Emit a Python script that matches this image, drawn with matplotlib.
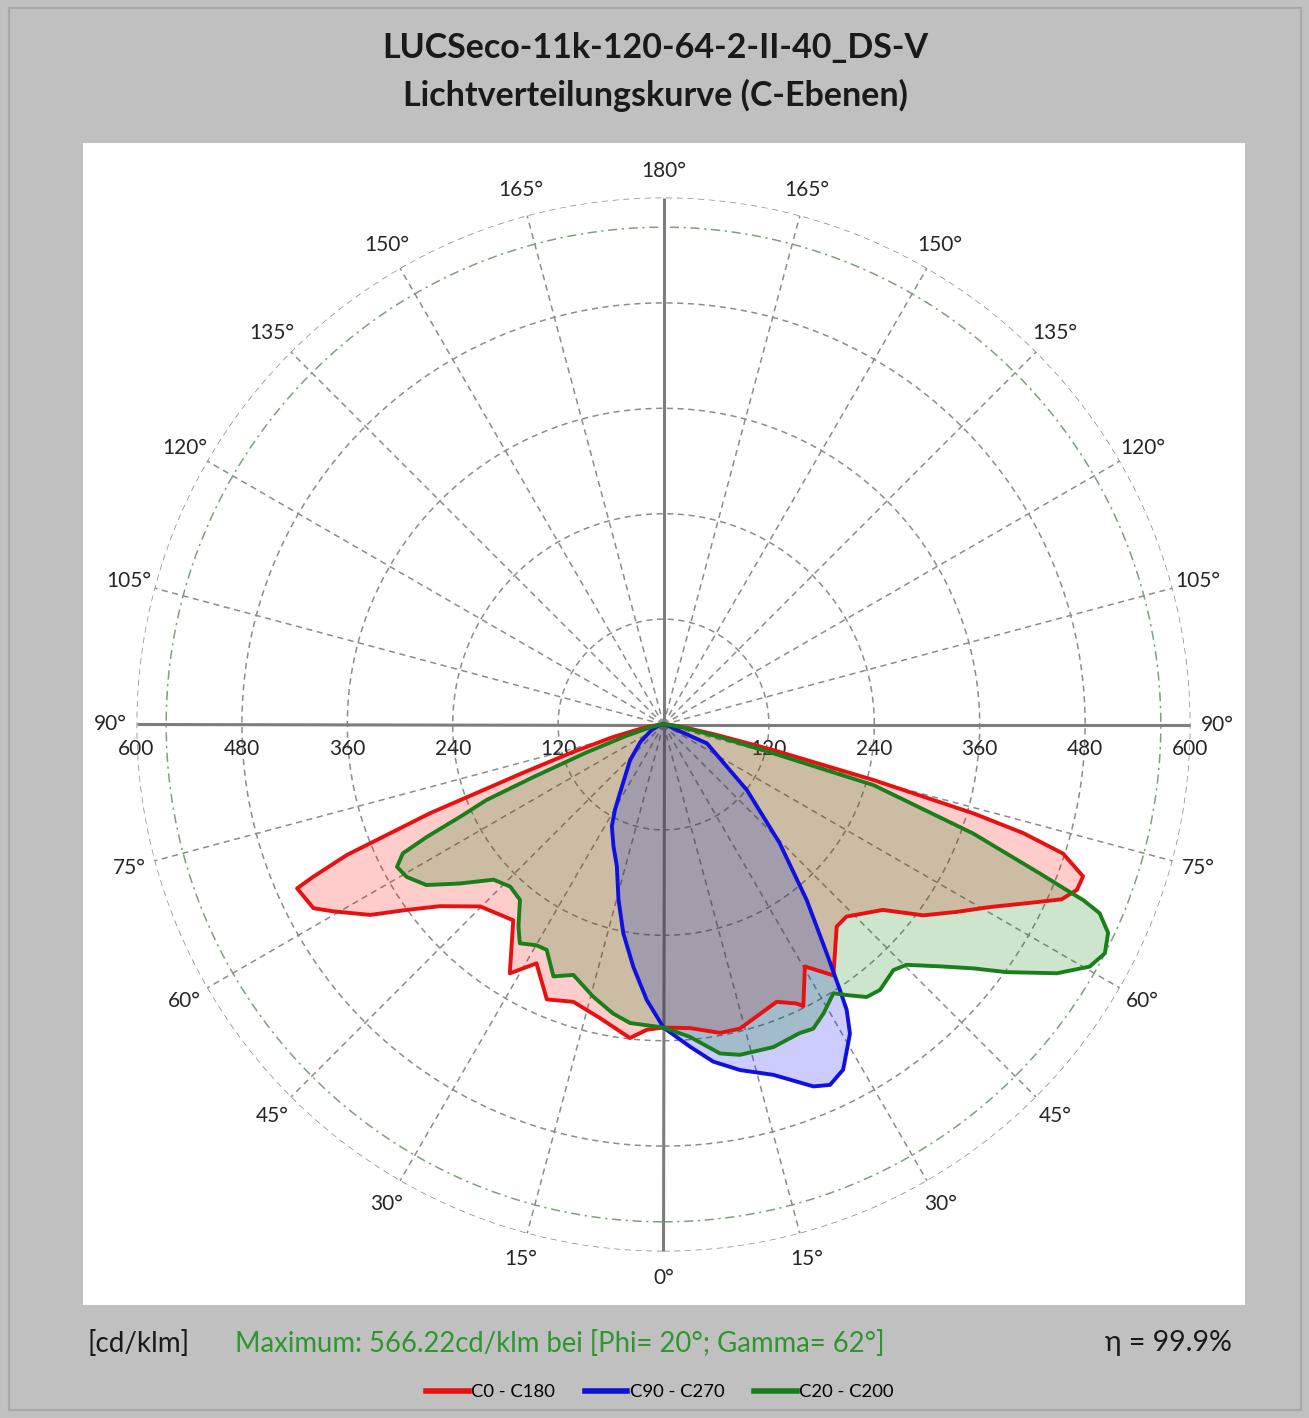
import numpy as np
import matplotlib
matplotlib.use("Agg")
import matplotlib.pyplot as plt
from matplotlib.patches import Rectangle

plt.rcParams['font.family'] = ['Lato', 'DejaVu Sans']

# ---------------- data (gamma in degrees, intensity in cd/klm) ----------------
# C0 (right) / C180 (left) - red
c0_gamma = [0, 5, 10.4, 14.1, 22.2, 25.5, 26.4, 30.3, 34.1, 40.6, 43.6, 49.8, 53.7, 57.4,
            60.8, 64.8, 66.3, 68.2, 70.1, 72.1, 73.2, 74.0, 75.2, 76.9, 79, 82, 86, 90]
c0_int = [345, 347, 357, 357, 341, 352, 358, 319, 345, 303, 302, 327, 367, 396,
          426, 474, 495, 507, 508, 478, 428, 367, 247, 128, 60, 25, 8, 2]
c180_gamma = [0, 3.1, 6.1, 12.2, 18.0, 23.0, 28.0, 31.7, 37.5, 45.2, 50.9, 54.2, 57.0,
              60.5, 62.3, 65.9, 66.5, 67.6, 68.3, 69.2, 69.6, 71, 73, 76, 80, 85, 90]
c180_int = [345, 348, 359, 342, 332, 340, 308, 333, 281, 294, 328, 361, 398,
            432, 450, 457, 435, 390, 335, 284, 247, 170, 110, 60, 25, 8, 2]

# C90 (right) / C270 (left) - blue
c90_gamma = [0, 4.7, 8.4, 12.5, 17.4, 22.5, 24.8, 27.5, 31.1, 32.7, 33.6, 35.5, 39.2,
             44.4, 51.8, 56.3, 66.5, 69, 75, 82, 90]
c90_int = [345, 368, 388, 403, 418, 446, 452, 443, 411, 386, 363, 320, 258,
           189, 121, 87, 54, 12, 6, 3, 1]
c270_gamma = [0, 3.5, 7.1, 10.9, 14.4, 18.2, 22.3, 26.9, 29.6, 32, 43, 53, 65, 80, 90]
c270_int = [345, 314, 278, 242, 206, 170, 150, 130, 112, 95, 56, 33, 15, 5, 1]

# C20 (right) / C200 (left) - green
c20_gamma = [0, 4.85, 9.75, 13.0, 18.8, 23.8, 26.2, 29.0, 32.3, 34.1, 36.7, 39.2, 43.1,
             45.3, 48.8, 51.8, 54.2, 57.7, 60.4, 62.6, 64.9, 66.6, 67.3, 67.6, 68.4,
             70.6, 73.9, 75.3, 77.5, 80, 85, 90]
c20_int = [345, 357, 380, 386, 388, 384, 386, 376, 362, 372, 387, 390, 383,
           389, 418, 449, 482, 530, 558, 566, 559, 541, 518, 500, 461,
           374, 249, 129, 65, 30, 10, 2]
c200_gamma = [0, 6.4, 9.9, 14.5, 19.8, 23.6, 27.4, 29.9, 33.3, 35.7, 39.3, 43.4, 47.6,
              52.0, 55.9, 59.3, 61.9, 63.7, 64.6, 65.6, 66.9, 68, 70, 73, 78, 85, 90]
c200_int = [345, 342, 334, 320, 303, 313, 289, 290, 298, 283, 258, 254, 262,
            294, 326, 340, 344, 331, 298, 254, 219, 160, 95, 45, 15, 5, 2]

curve_labels = ['C0 - C180', 'C90 - C270', 'C20 - C200']
curve_colors = ['#e81010', '#1010e0', '#1a7f1a']
fill_colors = ['#ff0000', '#0000ff', '#008000']

radial_ticks = [120, 240, 360, 480, 600]
angle_ticks = list(range(0, 181, 15))
max_value = 566.22

title_lines = ['LUCSeco-11k-120-64-2-II-40_DS-V', 'Lichtverteilungskurve (C-Ebenen)']
unit_text = '[cd/klm]'
max_text = 'Maximum: 566.22cd/klm bei [Phi= 20°; Gamma= 62°]'
eta_text = 'η = 99.9%'

# ---------------- figure ----------------
W, H = 1309, 1418
fig = plt.figure(figsize=(W / 100, H / 100), dpi=100)
fig.patch.set_facecolor('#c0c0c0')


def fx(px):
    return px / W


def fy(py):
    return 1 - py / H


# outer frame and white plot area
fig.patches.append(Rectangle((fx(9), fy(1410)), fx(1301) - fx(9), fy(8) - fy(1410),
                             transform=fig.transFigure, fill=False,
                             edgecolor='#a8a8a8', lw=1.5, zorder=-2))
fig.patches.append(Rectangle((fx(83), fy(1305)), fx(1245) - fx(83), fy(143) - fy(1305),
                             transform=fig.transFigure, facecolor='white',
                             edgecolor='none', zorder=-1))

cx, cy, R = 663.5, 724.5, 527
ax = fig.add_axes([fx(cx - R), fy(cy + R), 2 * R / W, 2 * R / H], projection='polar')
ax.set_zorder(1)
ax.set_theta_zero_location('S')
ax.set_theta_direction(1)
ax.set_rlim(0, 600)
ax.set_axis_off()

# grid circles
th = np.linspace(0, 2 * np.pi, 1441)
for r in radial_ticks:
    ax.plot(th, np.full_like(th, r), color='#8c8c8c', lw=1.1, ls=(0, (4, 3)), zorder=1)
ax.plot(th, np.full_like(th, max_value), color='#7fa07f', lw=1.1, ls=(0, (6, 3, 1.5, 3)), zorder=1)

# radial grid lines
for a in angle_ticks:
    if a in (0, 90, 180):
        continue
    for s in (1, -1):
        t = np.radians(s * a)
        ax.plot([t, t], [0, 600], color='#8c8c8c', lw=1.1, ls=(0, (4, 3)), zorder=1)

# main axes (solid)
for a in (0, 90, 180, -90):
    t = np.radians(a)
    ax.plot([t, t], [0, 600], color='#7d7d7d', lw=2.2, zorder=1.2, solid_capstyle='butt')

# angle labels
for a in angle_ticks:
    sides = (1,) if a in (0, 180) else (1, -1)
    for s in sides:
        ax.text(np.radians(s * a), 630, f'{a}°', ha='center', va='center',
                fontsize=15, color='#262626', clip_on=False, zorder=1.5)

# radial labels below the horizontal axis
for v in radial_ticks:
    for s in (1, -1):
        ax.annotate(str(v), xy=(np.radians(s * 90), v), xytext=(0, -17.5),
                    textcoords='offset points', ha='center', va='center',
                    fontsize=15, color='#262626', annotation_clip=False, zorder=1.5)

# curves
pairs = [(c180_gamma, c180_int, c0_gamma, c0_int),
         (c270_gamma, c270_int, c90_gamma, c90_int),
         (c200_gamma, c200_int, c20_gamma, c20_int)]
handles = []
for (lg, li, rg, ri), lc, fc in zip(pairs, curve_colors, fill_colors):
    theta = np.concatenate([-np.radians(lg[::-1]), np.radians(rg)])
    rr = np.concatenate([np.array(li[::-1], float), np.array(ri, float)])
    ax.fill(theta, rr, color=fc, alpha=0.2, lw=0, zorder=2)
for (lg, li, rg, ri), lc, fc in zip(pairs, curve_colors, fill_colors):
    theta = np.concatenate([-np.radians(lg[::-1]), np.radians(rg)])
    rr = np.concatenate([np.array(li[::-1], float), np.array(ri, float)])
    ln, = ax.plot(theta, rr, color=lc, lw=2.8, zorder=3, solid_joinstyle='round')
    handles.append(ln)

# titles
fig.text(fx(655), fy(48), title_lines[0], ha='center', va='center',
         fontsize=24.5, fontweight='bold', color='#1a1a1a')
fig.text(fx(655), fy(95), title_lines[1], ha='center', va='center',
         fontsize=24.5, fontweight='bold', color='#1a1a1a')

# bottom texts
fig.text(fx(88), fy(1343), unit_text, ha='left', va='center', fontsize=20, color='#1a1a1a')
fig.text(fx(235), fy(1343), max_text, ha='left', va='center', fontsize=19.8, color='#2e962e')
fig.text(fx(1232), fy(1343), eta_text, ha='right', va='center', fontsize=20.5, color='#1a1a1a')

leg = fig.legend(handles=handles, labels=curve_labels, loc='center',
                 bbox_to_anchor=(fx(660), fy(1392)), ncol=3, frameon=False,
                 handlelength=2.3, handletextpad=0.15, columnspacing=1.6,
                 fontsize=13.3)
for lh in leg.get_lines():
    lh.set_linewidth(4)

fig.savefig('out.png', dpi=100, facecolor=fig.get_facecolor())
